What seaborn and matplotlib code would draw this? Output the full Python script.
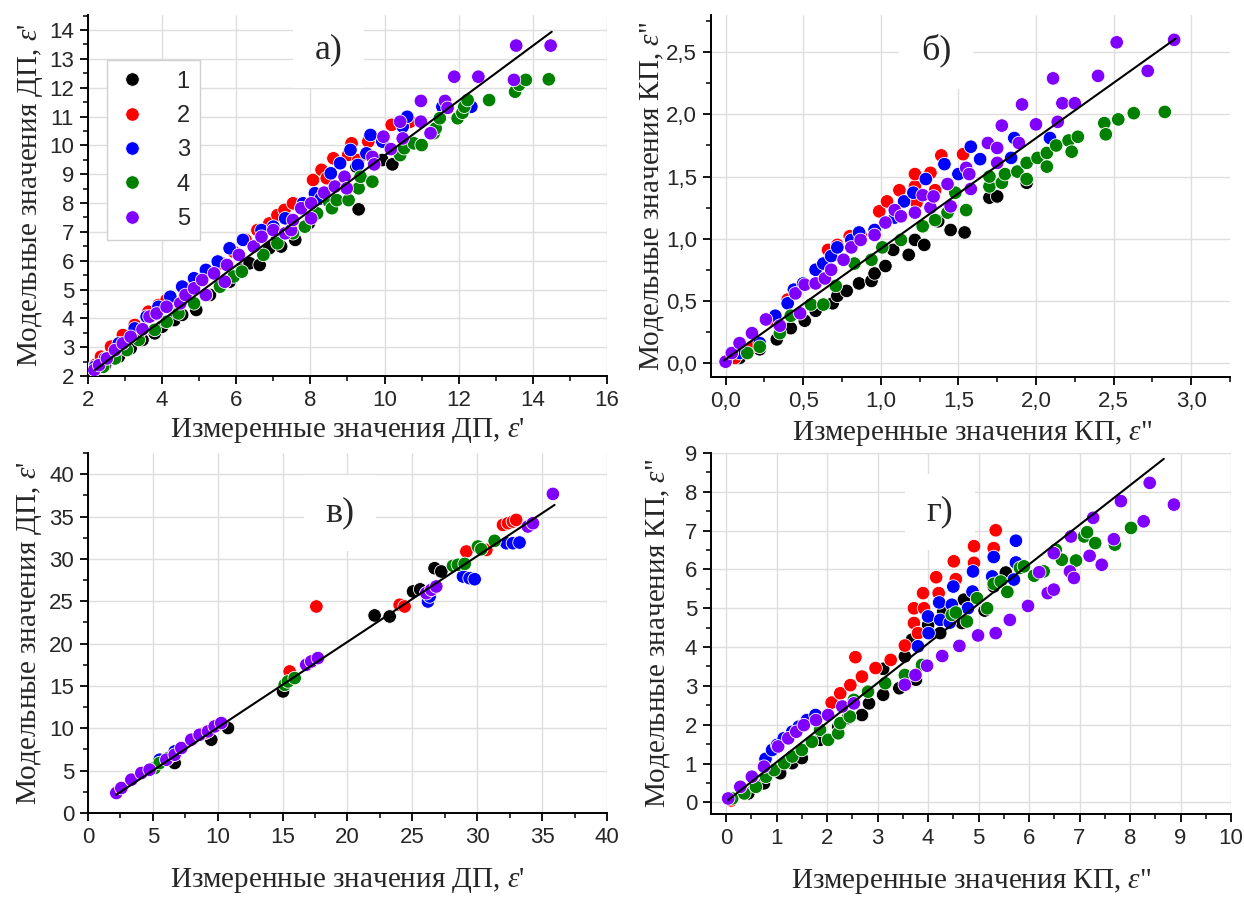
import numpy as np
import pandas as pd
import matplotlib
matplotlib.use("Agg")
import matplotlib.pyplot as plt
from matplotlib.ticker import MultipleLocator, AutoMinorLocator, FuncFormatter
import seaborn as sns

# ---------------- data: panel a (ДП, set 1) ----------------
A1_X = [2.46, 2.83, 3.15, 3.47, 3.80, 4.00, 4.33, 4.54, 4.92, 5.29, 5.56, 5.82, 6.15, 6.36, 6.63, 6.89, 7.11, 7.21, 7.59, 7.96, 9.24, 9.30, 9.94, 10.21]
A1_Y = [2.38, 2.67, 2.96, 3.25, 3.48, 3.71, 3.94, 4.12, 4.29, 4.81, 5.10, 5.27, 5.68, 5.91, 5.85, 6.43, 6.77, 6.49, 6.72, 7.30, 9.26, 7.78, 9.49, 9.34]
A2_X = [2.19, 2.35, 2.62, 2.94, 3.26, 3.63, 3.90, 4.12, 4.65, 5.18, 5.61, 5.93, 6.25, 6.57, 6.89, 7.11, 7.30, 7.53, 8.07, 8.17, 8.30, 8.44, 8.62, 9.02, 9.11, 9.29, 9.56, 10.19, 10.69]
A2_Y = [2.38, 2.67, 3.02, 3.42, 3.77, 4.23, 4.46, 4.64, 5.04, 5.56, 5.91, 6.31, 6.72, 7.06, 7.29, 7.58, 7.76, 7.99, 8.80, 8.28, 9.15, 8.86, 9.55, 9.67, 10.07, 9.49, 10.13, 10.71, 10.82]
A3_X = [2.19, 2.46, 2.83, 3.26, 3.58, 3.90, 4.22, 4.54, 4.86, 5.18, 5.50, 5.82, 6.18, 6.68, 7.00, 7.32, 7.80, 8.12, 8.28, 8.55, 8.80, 9.08, 9.28, 9.51, 9.62, 9.94, 10.49, 10.61, 11.56, 12.34]
A3_Y = [2.32, 2.61, 3.13, 3.65, 4.06, 4.40, 4.75, 5.10, 5.39, 5.68, 5.97, 6.43, 6.72, 7.06, 7.18, 7.47, 7.99, 8.34, 8.16, 9.03, 9.38, 9.84, 9.32, 9.72, 10.36, 10.13, 10.65, 10.99, 11.34, 11.34]
A4_X = [2.41, 2.73, 3.05, 3.37, 3.80, 4.12, 4.44, 4.86, 5.18, 5.56, 5.93, 6.15, 6.73, 7.11, 7.53, 7.85, 8.18, 8.50, 8.58, 8.71, 9.03, 9.30, 9.35, 9.67, 10.42, 10.53, 10.79, 11.00, 11.33, 11.38, 11.49, 11.97, 12.10, 12.15, 12.24, 12.82, 13.52, 13.63, 13.81, 14.43]
A4_Y = [2.32, 2.61, 2.90, 3.25, 3.60, 3.88, 4.17, 4.52, 4.81, 5.10, 5.45, 5.62, 6.20, 6.60, 6.95, 7.18, 7.64, 8.05, 7.82, 8.10, 8.10, 8.51, 8.91, 8.74, 9.66, 9.90, 10.07, 10.01, 10.42, 10.59, 10.94, 10.94, 11.13, 11.34, 11.57, 11.57, 11.86, 12.10, 12.27, 12.29]
A5_X = [2.17, 2.30, 2.51, 2.73, 2.94, 3.15, 3.47, 3.66, 3.85, 4.12, 4.49, 4.63, 4.86, 5.08, 5.18, 5.40, 5.69, 5.75, 6.07, 6.47, 6.68, 7.00, 7.32, 7.48, 7.53, 7.75, 8.02, 8.02, 8.37, 8.66, 8.92, 8.98, 9.67, 9.72, 9.97, 10.17, 10.42, 10.49, 10.98, 10.98, 11.24, 11.63, 11.70, 11.88, 12.53, 13.49, 13.55, 14.48]
A5_Y = [2.21, 2.38, 2.61, 2.90, 3.13, 3.36, 3.62, 4.06, 4.17, 4.40, 4.52, 4.81, 5.04, 5.33, 4.81, 5.56, 5.27, 5.85, 6.20, 6.49, 6.83, 7.06, 6.95, 7.06, 7.41, 7.82, 7.99, 7.47, 8.36, 8.57, 8.91, 8.51, 9.60, 9.34, 10.30, 9.87, 10.82, 10.24, 11.54, 10.82, 10.42, 11.54, 11.30, 12.38, 12.38, 12.27, 13.46, 13.46]
FIT_A_X = [2.19, 14.51]
FIT_A_Y = [2.21, 13.94]

# ---------------- data: panel б (КП, set 1) ----------------
B1_X = [0.09, 0.22, 0.33, 0.42, 0.51, 0.58, 0.69, 0.72, 0.78, 0.86, 0.94, 0.96, 1.03, 1.08, 1.18, 1.22, 1.28, 1.37, 1.45, 1.54, 1.70, 1.75, 1.94]
B1_Y = [0.04, 0.11, 0.19, 0.28, 0.34, 0.42, 0.48, 0.54, 0.58, 0.64, 0.66, 0.72, 0.78, 0.91, 0.87, 0.99, 0.95, 1.14, 1.07, 1.05, 1.33, 1.34, 1.45]
B2_X = [0.06, 0.17, 0.30, 0.40, 0.66, 0.72, 0.80, 0.87, 0.99, 1.04, 1.12, 1.22, 1.23, 1.22, 1.32, 1.35, 1.39, 1.53]
B2_Y = [0.04, 0.13, 0.35, 0.51, 0.91, 0.95, 1.02, 1.03, 1.22, 1.30, 1.39, 1.42, 1.29, 1.52, 1.53, 1.39, 1.67, 1.68]
B3_X = [0.09, 0.22, 0.32, 0.40, 0.44, 0.50, 0.58, 0.63, 0.68, 0.72, 0.81, 0.86, 0.96, 1.09, 1.15, 1.21, 1.29, 1.41, 1.50, 1.58, 1.64, 1.84, 1.86, 2.09]
B3_Y = [0.08, 0.16, 0.38, 0.48, 0.59, 0.64, 0.75, 0.80, 0.86, 0.93, 0.99, 1.05, 1.07, 1.17, 1.30, 1.37, 1.48, 1.60, 1.52, 1.74, 1.64, 1.65, 1.81, 1.81]
B4_X = [0.00, 0.14, 0.22, 0.35, 0.42, 0.55, 0.63, 0.71, 0.83, 0.94, 1.01, 1.13, 1.27, 1.35, 1.43, 1.48, 1.55, 1.70, 1.70, 1.78, 1.80, 1.88, 1.94, 1.94, 2.01, 2.07, 2.07, 2.13, 2.21, 2.23, 2.27, 2.44, 2.45, 2.53, 2.63, 2.83]
B4_Y = [0.01, 0.08, 0.13, 0.24, 0.38, 0.47, 0.47, 0.62, 0.80, 0.83, 0.93, 0.99, 1.10, 1.15, 1.21, 1.37, 1.23, 1.42, 1.50, 1.45, 1.52, 1.54, 1.48, 1.61, 1.65, 1.69, 1.58, 1.75, 1.79, 1.70, 1.82, 1.93, 1.84, 1.96, 2.01, 2.02]
B5_X = [0.00, 0.04, 0.09, 0.17, 0.26, 0.35, 0.45, 0.48, 0.51, 0.58, 0.64, 0.68, 0.76, 0.81, 0.87, 0.96, 1.03, 1.09, 1.13, 1.22, 1.27, 1.32, 1.34, 1.43, 1.45, 1.55, 1.57, 1.58, 1.69, 1.75, 1.75, 1.78, 1.89, 1.91, 2.00, 2.11, 2.14, 2.17, 2.25, 2.40, 2.52, 2.72, 2.89]
B5_Y = [0.01, 0.08, 0.16, 0.24, 0.35, 0.30, 0.56, 0.40, 0.63, 0.64, 0.68, 0.75, 0.83, 0.93, 0.99, 1.03, 1.13, 1.23, 1.18, 1.21, 1.35, 1.25, 1.34, 1.44, 1.26, 1.57, 1.52, 1.40, 1.77, 1.73, 1.61, 1.91, 1.77, 2.08, 1.92, 2.29, 1.94, 2.09, 2.09, 2.31, 2.58, 2.35, 2.60]
FIT_B_X = [-0.01, 2.90]
FIT_B_Y = [0.02, 2.61]

# ---------------- data: panel в (ДП, set 2) ----------------
C1_X = [6.68, 9.50, 10.79, 15.03, 22.09, 23.25, 25.05, 25.60, 26.71, 27.23]
C1_Y = [5.90, 8.65, 10.03, 14.35, 23.32, 23.20, 26.15, 26.40, 28.90, 28.51]
C2_X = [5.52, 8.99, 15.54, 17.60, 24.02, 24.40, 29.16, 30.70, 31.98, 32.37, 32.75, 33.00]
C2_Y = [6.10, 9.44, 16.71, 24.38, 24.58, 24.38, 30.87, 31.06, 34.01, 34.21, 34.41, 34.60]
C3_X = [5.52, 6.68, 26.20, 26.33, 28.90, 29.41, 29.80, 32.24, 32.75, 33.26]
C3_Y = [6.29, 7.27, 24.97, 25.56, 27.92, 27.72, 27.60, 31.85, 31.85, 31.93]
C4_X = [5.14, 5.52, 6.17, 15.16, 15.41, 15.93, 28.13, 28.51, 29.03, 30.05, 30.31, 31.34]
C4_Y = [5.31, 5.90, 6.49, 15.14, 15.53, 15.93, 29.18, 29.30, 29.41, 31.46, 31.14, 32.13]
C5_X = [2.18, 2.57, 3.34, 4.11, 4.75, 6.04, 6.68, 7.19, 7.96, 8.60, 9.25, 9.76, 10.27, 16.82, 17.21, 17.72, 26.07, 26.46, 26.84, 33.90, 34.29, 35.83]
C5_Y = [2.36, 2.95, 3.93, 4.72, 5.11, 6.29, 6.88, 7.67, 8.65, 9.24, 9.63, 10.22, 10.62, 17.50, 17.89, 18.29, 25.95, 26.35, 26.74, 33.82, 34.21, 37.67]
FIT_C_X = [2.18, 35.96]
FIT_C_Y = [2.16, 36.37]

# ---------------- data: panel г (КП, set 2) ----------------
D1_X = [0.44, 0.75, 1.07, 1.31, 1.50, 1.86, 2.22, 2.41, 2.69, 2.83, 3.11, 3.11, 3.43, 3.54, 3.68, 3.76, 4.00, 4.24, 4.30, 4.67, 4.71, 5.12, 5.30, 5.54]
D1_Y = [0.23, 0.49, 0.75, 1.01, 1.14, 1.61, 1.95, 2.17, 2.25, 2.55, 2.77, 3.44, 2.94, 3.76, 4.19, 3.16, 4.57, 4.36, 4.92, 4.62, 5.22, 4.94, 5.56, 5.92]
D2_X = [0.10, 2.09, 2.26, 2.46, 2.56, 2.69, 2.96, 3.26, 3.54, 3.72, 3.72, 3.80, 3.90, 3.92, 4.16, 4.21, 4.51, 4.55, 4.91, 4.91, 5.30, 5.34]
D2_Y = [0.05, 2.57, 2.81, 3.02, 3.74, 3.24, 3.46, 3.67, 4.04, 4.62, 5.00, 4.36, 5.39, 5.00, 5.80, 5.39, 6.21, 5.75, 6.60, 6.17, 6.55, 7.01]
D3_X = [0.78, 0.91, 1.01, 1.14, 1.31, 1.44, 1.60, 1.77, 3.80, 4.00, 4.01, 4.22, 4.24, 4.43, 4.47, 4.50, 4.79, 4.88, 4.89, 5.27, 5.30, 5.70, 5.74, 5.74]
D3_Y = [1.12, 1.35, 1.48, 1.65, 1.82, 1.95, 2.12, 2.25, 4.02, 4.79, 4.36, 5.15, 4.70, 4.63, 5.09, 5.56, 5.00, 5.43, 5.95, 5.82, 6.32, 5.74, 6.18, 6.74]
D4_X = [0.12, 0.36, 0.59, 0.79, 0.95, 1.15, 1.31, 1.50, 1.70, 1.86, 2.02, 2.22, 2.26, 2.45, 2.53, 2.81, 3.15, 3.54, 3.88, 4.47, 4.55, 4.77, 4.97, 5.17, 5.30, 5.44, 5.57, 5.82, 5.90, 6.10, 6.29, 6.53, 6.65, 6.93, 7.09, 7.15, 7.31, 7.70, 8.02]
D4_Y = [0.10, 0.23, 0.40, 0.66, 0.83, 1.01, 1.18, 1.35, 1.56, 1.87, 1.61, 1.78, 2.04, 2.21, 2.64, 2.85, 3.07, 3.28, 3.54, 4.83, 4.89, 4.66, 5.26, 5.00, 5.63, 5.69, 5.42, 6.04, 6.08, 5.84, 5.95, 6.51, 6.25, 6.23, 6.85, 6.96, 6.68, 6.64, 7.07]
D5_X = [0.04, 0.28, 0.51, 0.75, 1.03, 1.23, 1.39, 1.54, 1.78, 2.02, 2.30, 2.53, 3.54, 3.75, 3.98, 4.28, 4.62, 4.99, 5.34, 5.62, 5.98, 6.20, 6.37, 6.49, 6.49, 6.81, 6.83, 6.89, 7.20, 7.27, 7.44, 7.68, 7.82, 8.27, 8.39, 8.87]
D5_Y = [0.10, 0.40, 0.66, 0.92, 1.44, 1.65, 1.82, 1.99, 2.12, 2.25, 2.47, 2.55, 3.03, 3.28, 3.52, 3.77, 4.03, 4.30, 4.36, 4.70, 5.06, 5.93, 5.39, 5.48, 6.42, 5.95, 6.85, 5.78, 6.35, 7.33, 6.12, 6.78, 7.76, 7.24, 8.23, 7.67]
FIT_D_X = [0.04, 8.67]
FIT_D_Y = [0.06, 8.85]

SERIES = ["1", "2", "3", "4", "5"]
COLORS = ["#000000", "#ff0000", "#0000ff", "#008000", "#8000ff"]
PANEL_LABELS = ["а)", "б)", "в)", "г)"]
XLABEL_DP = "Измеренные значения ДП, $\\varepsilon$'"
YLABEL_DP = "Модельные значения ДП, $\\varepsilon$'"
XLABEL_KP = "Измеренные значения КП, $\\varepsilon$\""
YLABEL_KP = "Модельные значения КП, $\\varepsilon$\""

sns.set_theme(style="white")
plt.rcParams["font.family"] = ["Liberation Sans", "DejaVu Sans"]
plt.rcParams["mathtext.fontset"] = "custom"
plt.rcParams["mathtext.it"] = "Liberation Serif:italic"
plt.rcParams["mathtext.rm"] = "Liberation Serif"

palette = dict(zip(SERIES, COLORS))


def make_df(xs, ys):
    rows = []
    for name, x, y in zip(SERIES, xs, ys):
        rows.append(pd.DataFrame({"x": x, "y": y, "series": name}))
    return pd.concat(rows, ignore_index=True)


fig = plt.figure(figsize=(12.44, 8.97), dpi=100)

panels = [
    dict(rect=[0.07074, 0.58082, 0.4172, 0.40245],
         df=make_df([A1_X, A2_X, A3_X, A4_X, A5_X], [A1_Y, A2_Y, A3_Y, A4_Y, A5_Y]),
         fit=(FIT_A_X, FIT_A_Y), xlim=(2, 16), ylim=(2, 14.52), xstep=2, ystep=1,
         comma=False, xlabel=XLABEL_DP, ylabel=YLABEL_DP, lab=(0.464, 0.903),
         xlc=(0.50, -0.112), ylc=(-0.082, 0.5), legend=True),
    dict(rect=[0.57154, 0.57971, 0.4172, 0.40357],
         df=make_df([B1_X, B2_X, B3_X, B4_X, B5_X], [B1_Y, B2_Y, B3_Y, B4_Y, B5_Y]),
         fit=(FIT_B_X, FIT_B_Y), xlim=(-0.094, 3.25), ylim=(-0.113, 2.80), xstep=0.5, ystep=0.5,
         comma=True, xlabel=XLABEL_KP, ylabel=YLABEL_KP, lab=(0.434, 0.903),
         xlc=(0.503, -0.115), ylc=(-0.087, 0.5), legend=False),
    dict(rect=[0.07074, 0.09365, 0.4172, 0.40134],
         df=make_df([C1_X, C2_X, C3_X, C4_X, C5_X], [C1_Y, C2_Y, C3_Y, C4_Y, C5_Y]),
         fit=(FIT_C_X, FIT_C_Y), xlim=(0, 40), ylim=(0, 42.5), xstep=5, ystep=5,
         comma=False, xlabel=XLABEL_DP, ylabel=YLABEL_DP, lab=(0.486, 0.833),
         xlc=(0.50, -0.148), ylc=(-0.085, 0.5), legend=False),
    dict(rect=[0.57154, 0.09253, 0.418, 0.40245],
         df=make_df([D1_X, D2_X, D3_X, D4_X, D5_X], [D1_Y, D2_Y, D3_Y, D4_Y, D5_Y]),
         fit=(FIT_D_X, FIT_D_Y), xlim=(-0.3, 10), ylim=(-0.3, 9), xstep=1, ystep=1,
         comma=False, xlabel=XLABEL_KP, ylabel=YLABEL_KP, lab=(0.44, 0.837),
         xlc=(0.50, -0.146), ylc=(-0.075, 0.5), legend=False),
]

for p, plab in zip(panels, PANEL_LABELS):
    ax = fig.add_axes(p["rect"])
    ax.set_facecolor("white")
    ax.grid(True, which="major", color="#dedede", linewidth=1.0, zorder=0)
    ax.set_axisbelow(True)
    sns.scatterplot(data=p["df"], x="x", y="y", hue="series", palette=palette,
                    hue_order=SERIES, s=95, edgecolor="white", linewidth=0.6,
                    ax=ax, legend=p["legend"], zorder=3)
    ax.plot(p["fit"][0], p["fit"][1], color="black", linewidth=1.5, zorder=4)
    ax.set_xlim(*p["xlim"])
    ax.set_ylim(*p["ylim"])
    ax.xaxis.set_major_locator(MultipleLocator(p["xstep"]))
    ax.yaxis.set_major_locator(MultipleLocator(p["ystep"]))
    ax.xaxis.set_minor_locator(AutoMinorLocator(2))
    ax.yaxis.set_minor_locator(AutoMinorLocator(2))
    if p["comma"]:
        fmt = FuncFormatter(lambda v, pos: f"{v:.1f}".replace(".", ","))
    else:
        fmt = FuncFormatter(lambda v, pos: f"{v:g}")
    ax.xaxis.set_major_formatter(fmt)
    ax.yaxis.set_major_formatter(fmt)
    for s in ["top", "right"]:
        ax.spines[s].set_visible(False)
    for s in ["left", "bottom"]:
        ax.spines[s].set_color("black")
        ax.spines[s].set_linewidth(1.4)
    ax.tick_params(which="major", direction="out", length=6, width=1.3, color="black",
                   labelsize=16, pad=4, bottom=True, left=True)
    ax.tick_params(which="minor", direction="out", length=3.5, width=1.1, color="black",
                   bottom=True, left=True)
    ax.set_xlabel(p["xlabel"], family=["Liberation Serif"], fontsize=21)
    ax.set_ylabel(p["ylabel"], family=["Liberation Serif"], fontsize=21)
    ax.xaxis.set_label_coords(*p["xlc"])
    ax.yaxis.set_label_coords(*p["ylc"])
    ax.text(p["lab"][0], p["lab"][1], plab, transform=ax.transAxes, ha="center", va="center",
            family=["Liberation Serif"], fontsize=26, zorder=2,
            bbox=dict(facecolor="white", edgecolor="none", boxstyle="square,pad=0.6"))
    if p["legend"]:
        sns.move_legend(ax, "upper left", bbox_to_anchor=(0.0366, 0.875), title=None,
                        frameon=True, fancybox=False, edgecolor="#d0d0d0", framealpha=1,
                        fontsize=17, handletextpad=1.3, handlelength=1.2, labelspacing=0.52,
                        borderpad=0.45, borderaxespad=0.0, markerscale=1.0)

fig.savefig("out.png", dpi=100, facecolor="white")
